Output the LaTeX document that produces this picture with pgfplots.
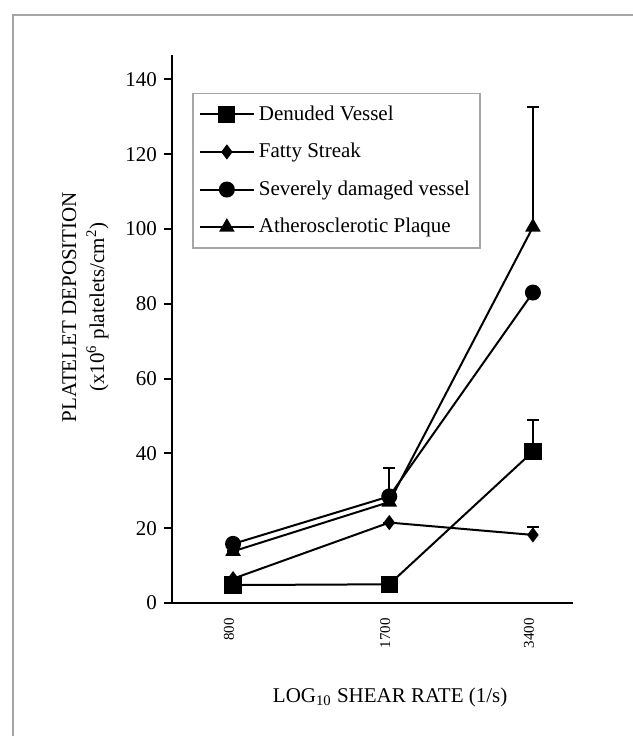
\documentclass[border=0pt]{standalone}
\usepackage{pgfplots}
\pgfplotsset{compat=1.18}
\usepackage{fontspec}
\setmainfont{Liberation Serif}
\begin{document}
\begin{tikzpicture}
\path[use as bounding box] (0,0) rectangle (316.5pt,368pt);
\draw[gray!70, line width=1.2pt] (6.5pt,0) -- (6.5pt,360.5pt) -- (316.5pt,360.5pt);
\begin{axis}[
  at={(86pt,66.5pt)}, anchor=south west,
  scale only axis, width=200.5pt, height=274pt,
  xmode=log, log basis x=10,
  xmin=596, xmax=4125, ymin=0, ymax=146.5,
  axis lines=left, axis line style={-, line width=1.2pt},
  xtick={800,1700,3400}, xticklabels={800,1700,3400},
  xminorticks=false,
  x tick style={draw=none},
  xticklabel style={rotate=90, anchor=east, font=\fontsize{7.5}{9}\selectfont, yshift=2pt},
  ytick={0,20,40,60,80,100,120,140},
  y tick style={line width=1pt, black},
  tick align=outside, major tick length=4pt,
  yticklabel style={font=\fontsize{10.5}{12}\selectfont},
  /pgf/number format/assume math mode=true,
  ylabel={PLATELET DEPOSITION\\[2pt](x10\textsuperscript{6} platelets/cm\textsuperscript{2})},
  ylabel style={align=center, at={(axis description cs:-0.216,0.54)}, anchor=center, rotate=0, font=\fontsize{10.5}{12}\selectfont},
  xlabel={LOG\textsubscript{10} SHEAR RATE (1/s)},
  xlabel style={at={(axis description cs:0.544,-0.1715)}, anchor=center, font=\fontsize{10.5}{12}\selectfont},
  legend style={at={(axis description cs:0.05,0.931)}, anchor=north west,
    draw=gray!70, line width=0.8pt, row sep=6pt, font=\fontsize{10.5}{12}\selectfont,
    inner xsep=3pt, inner ysep=4pt},
  legend cell align=left,
  legend image code/.code={\draw[mark repeat=2,mark phase=2,#1] plot coordinates {(0pt,0pt) (13.5pt,0pt) (27pt,0pt)};},
  error bars/error bar style={line width=1pt, black},
  error bars/error mark options={rotate=90, mark size=3pt, line width=1pt, black},
]
\addplot[black, line width=1pt, mark=square*, mark size=3.8pt, mark options={fill=black, draw=black},
  error bars/.cd, y dir=plus, y explicit]
  coordinates {(800,4.8) +- (0,0) (1700,5) +- (0,0) (3400,40.5) +- (0,8.5)};
\addlegendentry{Denuded Vessel}
\addplot[black, line width=1pt, mark=diamond*, mark size=3pt, mark options={fill=black, draw=black},
  error bars/.cd, y dir=plus, y explicit]
  coordinates {(800,6.5) +- (0,0) (1700,21.5) +- (0,0) (3400,18.2) +- (0,2)};
\addlegendentry{Fatty Streak}
\addplot[black, line width=1pt, mark=*, mark size=3.5pt, mark options={fill=black, draw=black}]
  coordinates {(800,15.8) (1700,28.5) (3400,83)};
\addlegendentry{Severely damaged vessel}
\addplot[black, line width=1pt, mark=triangle*, mark size=3.5pt, mark options={fill=black, draw=black},
  error bars/.cd, y dir=plus, y explicit]
  coordinates {(800,13.8) +- (0,0) (1700,27) +- (0,9) (3400,100.5) +- (0,32)};
\addlegendentry{Atherosclerotic Plaque}
\end{axis}
\end{tikzpicture}
\end{document}
